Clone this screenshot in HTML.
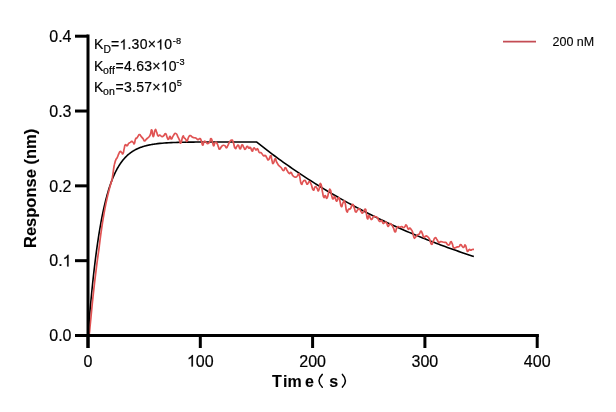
<!DOCTYPE html>
<html><head><meta charset="utf-8"><style>
html,body{margin:0;padding:0;background:#fff;}
body{width:616px;height:412px;overflow:hidden;}
svg{display:block;}
#w{width:616px;height:412px;will-change:transform;}
text{font-family:"Liberation Sans",sans-serif;fill:#000;stroke:#000;stroke-width:0.2px;}
.b text,text.b{stroke-width:0.1px;}
.one{fill:none;stroke:none;}
</style></head><body>
<div id="w"><svg width="616" height="412" viewBox="0 0 616 412">
<rect width="616" height="412" fill="#fff"/>
<path d="M88.00,335.50 L88.56,328.28 L89.12,321.33 L89.68,314.64 L90.25,308.19 L90.81,301.99 L91.37,296.02 L91.93,290.27 L92.49,284.74 L93.05,279.41 L93.61,274.28 L94.18,269.35 L94.74,264.59 L95.30,260.02 L95.86,255.61 L96.42,251.37 L96.98,247.29 L97.55,243.36 L98.11,239.58 L98.67,235.93 L99.23,232.43 L99.79,229.05 L100.35,225.80 L100.91,222.67 L101.48,219.66 L102.04,216.76 L102.60,213.97 L103.16,211.28 L103.72,208.70 L104.28,206.21 L104.84,203.81 L105.41,201.50 L105.97,199.28 L106.53,197.14 L107.09,195.08 L107.65,193.10 L108.21,191.19 L108.78,189.35 L109.34,187.58 L109.90,185.88 L110.46,184.24 L111.02,182.66 L111.58,181.14 L112.14,179.68 L112.71,178.27 L113.27,176.91 L113.83,175.61 L114.39,174.35 L114.95,173.14 L115.51,171.98 L116.08,170.86 L116.64,169.78 L117.20,168.74 L117.76,167.74 L118.32,166.78 L118.88,165.85 L119.44,164.96 L120.01,164.10 L120.57,163.27 L121.13,162.48 L121.69,161.71 L122.25,160.97 L122.81,160.26 L123.37,159.58 L123.94,158.92 L124.50,158.29 L125.06,157.67 L125.62,157.09 L126.18,156.52 L126.74,155.98 L127.31,155.45 L127.87,154.95 L128.43,154.46 L128.99,154.00 L129.55,153.55 L130.11,153.11 L130.67,152.69 L131.24,152.29 L131.80,151.91 L132.36,151.53 L132.92,151.18 L133.48,150.83 L134.04,150.50 L134.60,150.18 L135.17,149.87 L135.73,149.58 L136.29,149.29 L136.85,149.02 L137.41,148.75 L137.97,148.50 L138.54,148.25 L139.10,148.02 L139.66,147.79 L140.22,147.57 L140.78,147.36 L141.34,147.16 L141.90,146.96 L142.47,146.77 L143.03,146.59 L143.59,146.42 L144.15,146.25 L144.71,146.09 L145.27,145.94 L145.83,145.79 L146.40,145.64 L146.96,145.50 L147.52,145.37 L148.08,145.24 L148.64,145.12 L149.20,145.00 L149.77,144.88 L150.33,144.77 L150.89,144.67 L151.45,144.57 L152.01,144.47 L152.57,144.37 L153.13,144.28 L153.70,144.19 L154.26,144.11 L154.82,144.03 L155.38,143.95 L157.63,143.66 L159.87,143.42 L162.12,143.21 L164.36,143.03 L166.61,142.87 L168.86,142.74 L171.10,142.63 L173.35,142.53 L175.59,142.44 L177.84,142.37 L180.09,142.31 L182.33,142.25 L184.58,142.21 L186.82,142.17 L189.07,142.13 L191.32,142.11 L193.56,142.08 L195.81,142.06 L198.05,142.04 L200.30,142.02 L202.55,142.01 L204.79,142.00 L207.04,141.99 L209.28,141.98 L211.53,141.97 L213.78,141.97 L216.02,141.96 L218.27,141.96 L220.51,141.95 L222.76,141.95 L225.01,141.95 L227.25,141.94 L229.50,141.94 L231.74,141.94 L233.99,141.94 L236.24,141.94 L238.48,141.94 L240.73,141.93 L242.97,141.93 L245.22,141.93 L247.47,141.93 L249.71,141.93 L251.96,141.93 L254.20,141.93 L256.45,141.93 L258.70,143.71 L260.94,145.48 L263.19,147.23 L265.43,148.97 L267.68,150.69 L269.93,152.39 L272.17,154.08 L274.42,155.75 L276.66,157.41 L278.91,159.05 L281.16,160.68 L283.40,162.29 L285.65,163.88 L287.89,165.47 L290.14,167.03 L292.39,168.59 L294.63,170.12 L296.88,171.65 L299.12,173.16 L301.37,174.66 L303.62,176.14 L305.86,177.61 L308.11,179.06 L310.35,180.50 L312.60,181.93 L314.85,183.35 L317.09,184.75 L319.34,186.14 L321.58,187.52 L323.83,188.88 L326.08,190.23 L328.32,191.57 L330.57,192.90 L332.81,194.21 L335.06,195.51 L337.31,196.80 L339.55,198.08 L341.80,199.35 L344.04,200.60 L346.29,201.85 L348.54,203.08 L350.78,204.30 L353.03,205.51 L355.27,206.71 L357.52,207.89 L359.77,209.07 L362.01,210.24 L364.26,211.39 L366.50,212.53 L368.75,213.67 L371.00,214.79 L373.24,215.90 L375.49,217.01 L377.73,218.10 L379.98,219.18 L382.23,220.25 L384.47,221.32 L386.72,222.37 L388.96,223.41 L391.21,224.44 L393.46,225.47 L395.70,226.48 L397.95,227.49 L400.19,228.48 L402.44,229.47 L404.69,230.45 L406.93,231.41 L409.18,232.37 L411.42,233.32 L413.67,234.27 L415.92,235.20 L418.16,236.12 L420.41,237.04 L422.65,237.95 L424.90,238.85 L427.15,239.74 L429.39,240.62 L431.64,241.49 L433.88,242.36 L436.13,243.22 L438.38,244.07 L440.62,244.91 L442.87,245.75 L445.11,246.57 L447.36,247.39 L449.61,248.21 L451.85,249.01 L454.10,249.81 L456.34,250.60 L458.59,251.38 L460.84,252.16 L463.08,252.92 L465.33,253.69 L467.57,254.44 L469.82,255.19 L472.07,255.93 L473.86,256.51" fill="none" stroke="#000" stroke-width="1.6" stroke-linejoin="round"/>
<path d="M88.00,335.50 C88.17,335.50 88.17,335.50 88.50,335.50 C88.83,335.50 88.67,336.58 89.00,335.50 C89.33,334.42 89.17,335.10 89.50,332.25 C89.83,329.40 89.67,330.44 90.00,326.96 C90.33,323.48 90.17,325.19 90.50,321.81 C90.83,318.43 90.67,320.22 91.00,316.81 C91.33,313.39 91.17,315.01 91.50,311.56 C91.83,308.11 91.67,309.81 92.00,306.47 C92.33,303.13 92.17,304.77 92.50,301.53 C92.83,298.29 92.67,299.89 93.00,296.74 C93.33,293.60 93.17,295.15 93.50,292.10 C93.83,289.05 93.67,290.55 94.00,287.59 C94.33,284.63 94.17,286.09 94.50,283.22 C94.83,280.35 94.67,281.76 95.00,278.98 C95.33,276.20 95.17,277.57 95.50,274.87 C95.83,272.17 95.67,273.55 96.00,270.88 C96.33,268.21 96.17,269.50 96.50,266.87 C96.83,264.24 96.67,265.53 97.00,262.98 C97.33,260.43 97.17,261.69 97.50,259.22 C97.83,256.75 97.67,257.96 98.00,255.57 C98.33,253.18 98.17,254.36 98.50,252.04 C98.83,249.72 98.67,251.14 99.00,248.61 C99.33,246.08 99.17,247.17 99.50,244.45 C99.83,241.73 99.67,243.07 100.00,240.45 C100.33,237.84 100.17,239.12 100.50,236.61 C100.83,234.10 100.67,235.33 101.00,232.92 C101.33,230.51 101.17,231.69 101.50,229.37 C101.83,227.05 101.67,228.19 102.00,225.96 C102.33,223.73 102.17,224.83 102.50,222.68 C102.83,220.54 102.67,221.59 103.00,219.54 C103.33,217.48 103.17,218.49 103.50,216.53 C103.83,214.57 103.67,215.53 104.00,213.64 C104.33,211.75 104.17,212.68 104.50,210.86 C104.83,209.05 104.67,209.94 105.00,208.19 C105.33,206.45 105.17,207.31 105.50,205.63 C105.83,203.95 105.67,204.77 106.00,203.16 C106.33,201.55 106.17,202.34 106.50,200.79 C106.83,199.24 106.67,200.00 107.00,198.51 C107.33,197.02 107.17,197.75 107.50,196.32 C107.83,194.89 107.67,195.59 108.00,194.21 C108.33,192.84 108.17,193.51 108.50,192.19 C108.83,190.87 108.67,191.52 109.00,190.24 C109.33,188.97 109.17,189.60 109.50,188.37 C109.83,187.15 109.67,187.75 110.00,186.57 C110.33,185.40 110.17,185.97 110.50,184.84 C110.83,183.71 110.67,184.27 111.00,183.18 C111.33,182.10 111.17,182.63 111.50,181.59 C111.83,180.54 111.53,182.51 112.00,180.05 C112.47,177.59 112.23,178.72 112.90,174.20 C113.57,169.68 113.40,170.07 114.00,166.50 C114.60,162.93 114.10,165.70 114.70,163.50 C115.30,161.30 114.93,161.97 115.80,159.90 C116.67,157.83 116.33,159.27 117.30,157.30 C118.27,155.33 117.73,155.93 118.70,154.00 C119.67,152.07 119.20,151.97 120.20,151.50 C121.20,151.03 120.77,151.93 121.70,152.60 C122.63,153.27 122.17,154.83 123.00,153.50 C123.83,152.17 123.43,151.47 124.20,148.60 C124.97,145.73 124.33,145.87 125.30,144.90 C126.27,143.93 126.00,146.17 127.10,145.70 C128.20,145.23 127.50,144.60 128.60,143.50 C129.70,142.40 129.33,143.13 130.40,142.40 C131.47,141.67 130.83,141.20 131.80,141.30 C132.77,141.40 132.43,141.97 133.30,142.70 C134.17,143.43 133.67,144.70 134.40,143.50 C135.13,142.30 134.67,140.93 135.50,139.10 C136.33,137.27 136.07,138.97 136.90,138.00 C137.73,137.03 137.13,137.30 138.00,136.20 C138.87,135.10 138.40,134.57 139.50,134.70 C140.60,134.83 140.10,135.23 141.30,136.60 C142.50,137.97 142.00,137.37 143.10,138.80 C144.20,140.23 143.50,140.80 144.60,140.90 C145.70,141.00 145.07,140.30 146.40,139.10 C147.73,137.90 147.27,138.87 148.60,137.30 C149.93,135.73 149.33,136.83 150.40,134.40 C151.47,131.97 150.83,129.27 151.80,130.00 C152.77,130.73 152.20,136.60 153.30,136.60 C154.40,136.60 154.00,131.47 155.10,130.00 C156.20,128.53 155.63,130.27 156.60,132.20 C157.57,134.13 156.93,134.83 158.00,135.80 C159.07,136.77 158.47,134.83 159.80,135.10 C161.13,135.37 160.63,136.47 162.00,136.60 C163.37,136.73 162.67,136.47 163.90,135.50 C165.13,134.53 164.63,133.10 165.70,133.70 C166.77,134.30 166.17,135.43 167.10,137.30 C168.03,139.17 167.53,139.60 168.50,139.30 C169.47,139.00 169.00,136.53 170.00,136.40 C171.00,136.27 170.40,139.13 171.50,138.90 C172.60,138.67 171.87,137.50 173.30,135.70 C174.73,133.90 174.23,133.03 175.80,133.50 C177.37,133.97 176.77,134.93 178.00,137.10 C179.23,139.27 178.53,138.07 179.50,140.00 C180.47,141.93 179.80,144.10 180.90,142.90 C182.00,141.70 181.70,138.10 182.80,136.40 C183.90,134.70 183.23,136.83 184.20,137.80 C185.17,138.77 184.73,138.20 185.70,139.30 C186.67,140.40 186.13,141.83 187.10,141.10 C188.07,140.37 187.50,138.90 188.60,137.10 C189.70,135.30 189.20,135.70 190.40,135.70 C191.60,135.70 190.87,136.40 192.20,137.10 C193.53,137.80 193.07,137.43 194.40,137.80 C195.73,138.17 195.00,137.57 196.20,138.20 C197.40,138.83 196.80,139.57 198.00,139.70 C199.20,139.83 198.70,138.27 199.80,138.60 C200.90,138.93 200.33,138.53 201.30,140.70 C202.27,142.87 201.73,144.83 202.70,145.10 C203.67,145.37 203.10,142.47 204.20,141.50 C205.30,140.53 204.80,141.47 206.00,142.20 C207.20,142.93 206.57,143.83 207.80,143.70 C209.03,143.57 208.60,143.50 209.70,141.80 C210.80,140.10 210.13,138.33 211.10,138.60 C212.07,138.87 211.73,140.20 212.60,142.60 C213.47,145.00 212.87,145.80 213.70,145.80 C214.53,145.80 214.03,143.43 215.10,142.60 C216.17,141.77 215.80,141.87 216.90,143.30 C218.00,144.73 217.53,144.97 218.40,146.90 C219.27,148.83 218.53,149.10 219.50,149.10 C220.47,149.10 220.20,148.10 221.30,146.90 C222.40,145.70 221.60,145.90 222.80,145.50 C224.00,145.10 223.70,144.93 224.90,145.70 C226.10,146.47 225.43,147.80 226.40,147.80 C227.37,147.80 226.73,147.63 227.80,145.70 C228.87,143.77 228.27,143.83 229.60,142.00 C230.93,140.17 230.57,140.07 231.80,140.20 C233.03,140.33 232.20,139.73 233.30,142.40 C234.40,145.07 233.90,146.87 235.10,148.20 C236.30,149.53 235.80,147.37 236.90,146.40 C238.00,145.43 237.30,144.47 238.40,145.30 C239.50,146.13 239.00,149.03 240.20,148.90 C241.40,148.77 240.80,145.37 242.00,144.90 C243.20,144.43 242.70,146.03 243.80,147.50 C244.90,148.97 244.20,149.67 245.30,149.30 C246.40,148.93 245.90,146.77 247.10,146.40 C248.30,146.03 247.80,147.83 248.90,148.20 C250.00,148.57 249.30,146.53 250.40,147.50 C251.50,148.47 251.13,150.87 252.20,151.10 C253.27,151.33 252.63,148.93 253.60,148.20 C254.57,147.47 254.23,148.30 255.10,148.90 C255.97,149.50 255.37,150.00 256.20,150.00 C257.03,150.00 256.63,148.17 257.60,148.90 C258.57,149.63 258.10,150.97 259.10,152.20 C260.10,153.43 259.63,152.10 260.60,152.60 C261.57,153.10 261.03,152.63 262.00,153.70 C262.97,154.77 262.40,155.20 263.50,155.80 C264.60,156.40 264.20,154.87 265.30,155.50 C266.40,156.13 265.70,156.27 266.80,157.70 C267.90,159.13 267.27,160.53 268.60,159.80 C269.93,159.07 269.73,155.50 270.80,155.50 C271.87,155.50 270.97,157.13 271.80,159.80 C272.63,162.47 272.20,163.83 273.30,163.50 C274.40,163.17 274.00,159.30 275.10,158.80 C276.20,158.30 275.50,159.97 276.60,162.00 C277.70,164.03 277.43,163.50 278.40,164.90 C279.37,166.30 278.53,165.27 279.50,166.20 C280.47,167.13 279.97,166.23 281.30,167.70 C282.63,169.17 282.17,170.60 283.50,170.60 C284.83,170.60 284.10,167.70 285.30,167.70 C286.50,167.70 285.77,168.67 287.10,170.60 C288.43,172.53 287.97,172.90 289.30,173.50 C290.63,174.10 289.90,171.67 291.10,172.40 C292.30,173.13 291.43,174.13 292.90,175.70 C294.37,177.27 294.03,177.00 295.50,177.10 C296.97,177.20 296.20,177.10 297.30,176.00 C298.40,174.90 297.97,173.43 298.80,173.80 C299.63,174.17 298.97,173.70 299.80,177.10 C300.63,180.50 300.20,182.53 301.30,184.00 C302.40,185.47 301.90,182.70 303.10,181.50 C304.30,180.30 303.87,180.07 304.90,180.40 C305.93,180.73 305.33,181.23 306.20,182.50 C307.07,183.77 306.47,184.50 307.50,184.20 C308.53,183.90 308.10,181.60 309.30,181.60 C310.50,181.60 309.77,181.40 311.10,184.20 C312.43,187.00 311.97,189.17 313.30,190.00 C314.63,190.83 313.90,187.30 315.10,186.70 C316.30,186.10 315.70,186.97 316.90,188.20 C318.10,189.43 317.47,191.97 318.70,190.40 C319.93,188.83 319.37,183.13 320.60,183.50 C321.83,183.87 321.33,186.90 322.40,191.50 C323.47,196.10 322.83,195.97 323.80,197.30 C324.77,198.63 324.20,195.27 325.30,195.50 C326.40,195.73 325.90,199.33 327.10,198.00 C328.30,196.67 327.80,194.17 328.90,191.50 C330.00,188.83 329.40,188.30 330.40,190.00 C331.40,191.70 330.93,193.67 331.90,196.60 C332.87,199.53 332.33,198.80 333.30,198.80 C334.27,198.80 333.73,195.83 334.80,196.60 C335.87,197.37 335.30,200.70 336.50,201.10 C337.70,201.50 337.30,198.03 338.40,197.80 C339.50,197.57 338.83,197.47 339.80,200.40 C340.77,203.33 340.20,205.87 341.30,206.60 C342.40,207.33 341.90,204.07 343.10,202.60 C344.30,201.13 343.70,199.30 344.90,202.20 C346.10,205.10 345.47,209.00 346.70,211.30 C347.93,213.60 347.37,209.93 348.60,209.10 C349.83,208.27 349.07,210.37 350.40,208.80 C351.73,207.23 351.27,204.53 352.60,204.40 C353.93,204.27 353.33,205.87 354.40,208.40 C355.47,210.93 354.70,211.53 355.80,212.00 C356.90,212.47 356.47,210.77 357.70,209.80 C358.93,208.83 358.30,208.37 359.50,209.10 C360.70,209.83 360.20,210.80 361.30,212.00 C362.40,213.20 361.47,213.67 362.80,212.70 C364.13,211.73 364.10,208.73 365.30,209.10 C366.50,209.47 365.67,210.53 366.40,213.80 C367.13,217.07 366.67,218.27 367.50,218.90 C368.33,219.53 367.93,215.93 368.90,215.70 C369.87,215.47 369.43,217.00 370.40,218.20 C371.37,219.40 370.70,219.90 371.80,219.30 C372.90,218.70 372.47,217.23 373.70,216.40 C374.93,215.57 374.30,216.43 375.50,216.80 C376.70,217.17 376.20,216.30 377.30,217.50 C378.40,218.70 377.83,219.07 378.80,220.40 C379.77,221.73 379.23,221.50 380.20,221.50 C381.17,221.50 380.73,219.80 381.70,220.40 C382.67,221.00 382.13,222.57 383.10,223.30 C384.07,224.03 383.50,222.83 384.60,222.60 C385.70,222.37 385.30,221.40 386.40,222.60 C387.50,223.80 386.93,225.47 387.90,226.20 C388.87,226.93 388.27,225.53 389.30,224.80 C390.33,224.07 389.67,223.03 391.00,224.00 C392.33,224.97 391.93,225.03 393.30,227.70 C394.67,230.37 394.00,231.77 395.10,232.00 C396.20,232.23 395.63,230.20 396.60,228.40 C397.57,226.60 396.93,226.97 398.00,226.60 C399.07,226.23 398.57,227.30 399.80,227.30 C401.03,227.30 400.47,226.47 401.70,226.60 C402.93,226.73 402.43,227.70 403.50,227.70 C404.57,227.70 403.93,227.47 404.90,226.60 C405.87,225.73 405.30,224.27 406.40,225.10 C407.50,225.93 407.10,228.13 408.20,229.10 C409.30,230.07 408.73,227.87 409.70,228.00 C410.67,228.13 410.13,228.17 411.10,229.50 C412.07,230.83 411.63,229.33 412.60,232.00 C413.57,234.67 413.03,235.80 414.00,237.50 C414.97,239.20 414.53,237.83 415.50,237.10 C416.47,236.37 416.00,236.17 416.90,235.30 C417.80,234.43 417.33,235.03 418.20,234.50 C419.07,233.97 418.60,234.83 419.50,233.70 C420.40,232.57 419.93,231.10 420.90,231.10 C421.87,231.10 421.43,231.63 422.40,233.70 C423.37,235.77 422.73,236.47 423.80,237.30 C424.87,238.13 424.37,236.43 425.60,236.20 C426.83,235.97 426.13,235.50 427.50,236.60 C428.87,237.70 428.37,236.97 429.70,239.50 C431.03,242.03 430.30,243.73 431.50,244.20 C432.70,244.67 432.10,243.07 433.30,240.90 C434.50,238.73 433.90,238.17 435.10,237.70 C436.30,237.23 435.67,237.93 436.90,239.50 C438.13,241.07 437.57,241.67 438.80,242.40 C440.03,243.13 439.27,241.83 440.60,241.70 C441.93,241.57 441.47,241.77 442.80,242.00 C444.13,242.23 443.53,242.23 444.60,242.40 C445.67,242.57 445.10,241.90 446.00,242.50 C446.90,243.10 446.20,243.47 447.30,244.20 C448.40,244.93 448.17,245.50 449.30,244.70 C450.43,243.90 449.73,242.13 450.70,241.80 C451.67,241.47 451.23,241.73 452.20,243.70 C453.17,245.67 452.50,246.37 453.60,247.70 C454.70,249.03 454.27,247.97 455.50,247.70 C456.73,247.43 456.10,247.27 457.30,246.90 C458.50,246.53 458.00,247.33 459.10,246.60 C460.20,245.87 459.50,244.70 460.60,244.70 C461.70,244.70 461.33,245.73 462.40,246.60 C463.47,247.47 462.83,247.80 463.80,247.30 C464.77,246.80 464.30,244.27 465.30,245.10 C466.30,245.93 465.97,247.73 466.80,249.80 C467.63,251.87 466.97,251.40 467.80,251.30 C468.63,251.20 468.30,249.87 469.30,249.50 C470.30,249.13 469.83,250.20 470.80,250.20 C471.77,250.20 471.13,249.73 472.20,249.50 C473.27,249.27 473.40,249.50 474.00,249.50" fill="none" stroke="#e05353" stroke-width="1.7" stroke-linejoin="round"/>
<line x1="88" y1="34.6" x2="88" y2="348" stroke="#000" stroke-width="3"/>
<line x1="75" y1="335.5" x2="538.9" y2="335.5" stroke="#000" stroke-width="3"/>
<line x1="75" y1="335.50" x2="88" y2="335.50" stroke="#000" stroke-width="3"/>
<text x="71.5" y="341.20" text-anchor="end" font-size="16">0.0</text>
<line x1="75" y1="260.68" x2="88" y2="260.68" stroke="#000" stroke-width="3"/>
<text x="71.5" y="266.38" text-anchor="end" font-size="16">0.<tspan class="one">1</tspan></text>
<line x1="75" y1="185.85" x2="88" y2="185.85" stroke="#000" stroke-width="3"/>
<text x="71.5" y="191.55" text-anchor="end" font-size="16">0.2</text>
<line x1="75" y1="111.03" x2="88" y2="111.03" stroke="#000" stroke-width="3"/>
<text x="71.5" y="116.73" text-anchor="end" font-size="16">0.3</text>
<line x1="75" y1="36.20" x2="88" y2="36.20" stroke="#000" stroke-width="3"/>
<text x="71.5" y="41.90" text-anchor="end" font-size="16">0.4</text>
<line x1="88.00" y1="335.5" x2="88.00" y2="348" stroke="#000" stroke-width="3"/>
<text x="88.00" y="366.5" text-anchor="middle" font-size="16">0</text>
<line x1="200.30" y1="335.5" x2="200.30" y2="348" stroke="#000" stroke-width="3"/>
<text x="200.30" y="366.5" text-anchor="middle" font-size="16"><tspan class="one">1</tspan>00</text>
<line x1="312.60" y1="335.5" x2="312.60" y2="348" stroke="#000" stroke-width="3"/>
<text x="312.60" y="366.5" text-anchor="middle" font-size="16">200</text>
<line x1="424.90" y1="335.5" x2="424.90" y2="348" stroke="#000" stroke-width="3"/>
<text x="424.90" y="366.5" text-anchor="middle" font-size="16">300</text>
<line x1="537.20" y1="335.5" x2="537.20" y2="348" stroke="#000" stroke-width="3"/>
<text x="537.20" y="366.5" text-anchor="middle" font-size="16">400</text>

<text class="b" transform="translate(36,188.4) rotate(-90)" x="0" y="0" text-anchor="middle" font-size="16.5" font-weight="bold">Response (nm)</text>
<g class="b" font-size="16" font-weight="bold">
<text x="272" y="386.7">T</text><text x="283" y="386.7">i</text><text x="287.5" y="386.7">m</text><text x="305.1" y="386.7">e</text><text x="329.2" y="386.7">s</text>
</g>
<path d="M322.3,374.4 Q315.7,380.85 322.3,387.3 M342.4,374.4 Q348.4,380.75 342.4,387.1" fill="none" stroke="#000" stroke-width="1.5" stroke-linecap="round"/>
<g font-size="14" letter-spacing="0.25">
<text y="49.4"><tspan x="94">K</tspan><tspan x="103.5" font-size="10.3" dy="3.1">D</tspan><tspan x="111" dy="-3.1">=<tspan class="one">1</tspan>.30×<tspan class="one">1</tspan>0</tspan><tspan x="172.8" font-size="9.2" dy="-5.6">-8</tspan></text>
<text y="70.8"><tspan x="94">K</tspan><tspan x="103" font-size="10.5" dy="2.9">off</tspan><tspan x="115.6" dy="-2.9">=4.63×<tspan class="one">1</tspan>0</tspan><tspan x="176.3" font-size="9.2" dy="-5.4">-3</tspan></text>
<text y="92.2"><tspan x="94">K</tspan><tspan x="103" font-size="10.5" dy="2.9">on</tspan><tspan x="115.6" dy="-2.9">=3.57×<tspan class="one">1</tspan>0</tspan><tspan x="176.8" font-size="9.2" dy="-6.4">5</tspan></text>
</g>
<line x1="503" y1="41.7" x2="536" y2="41.7" stroke="#c44c54" stroke-width="1.8"/>
<text class="b" x="552.5" y="46.2" font-size="12.5">200 nM</text>
<path transform="translate(62.59,266.38) scale(0.007812,-0.007812)" d="M763,0 L583,0 L583,1147 C540,1106 483,1065 413,1024 C343,983 280,952 224,931 L224,1105 C325,1152 413,1210 488,1278 C563,1346 616,1412 647,1476 L763,1476 Z" fill="#000" stroke="#000" stroke-width="25.6"/>
<path transform="translate(186.95,366.50) scale(0.007812,-0.007812)" d="M763,0 L583,0 L583,1147 C540,1106 483,1065 413,1024 C343,983 280,952 224,931 L224,1105 C325,1152 413,1210 488,1278 C563,1346 616,1412 647,1476 L763,1476 Z" fill="#000" stroke="#000" stroke-width="25.6"/>
<path transform="translate(119.44,49.40) scale(0.006836,-0.006836)" d="M763,0 L583,0 L583,1147 C540,1106 483,1065 413,1024 C343,983 280,952 224,931 L224,1105 C325,1152 413,1210 488,1278 C563,1346 616,1412 647,1476 L763,1476 Z" fill="#000" stroke="#000" stroke-width="29.3"/>
<path transform="translate(156.12,49.40) scale(0.006836,-0.006836)" d="M763,0 L583,0 L583,1147 C540,1106 483,1065 413,1024 C343,983 280,952 224,931 L224,1105 C325,1152 413,1210 488,1278 C563,1346 616,1412 647,1476 L763,1476 Z" fill="#000" stroke="#000" stroke-width="29.3"/>
<path transform="translate(160.71,70.80) scale(0.006836,-0.006836)" d="M763,0 L583,0 L583,1147 C540,1106 483,1065 413,1024 C343,983 280,952 224,931 L224,1105 C325,1152 413,1210 488,1278 C563,1346 616,1412 647,1476 L763,1476 Z" fill="#000" stroke="#000" stroke-width="29.3"/>
<path transform="translate(160.71,92.20) scale(0.006836,-0.006836)" d="M763,0 L583,0 L583,1147 C540,1106 483,1065 413,1024 C343,983 280,952 224,931 L224,1105 C325,1152 413,1210 488,1278 C563,1346 616,1412 647,1476 L763,1476 Z" fill="#000" stroke="#000" stroke-width="29.3"/>
</svg></div>
</body></html>
